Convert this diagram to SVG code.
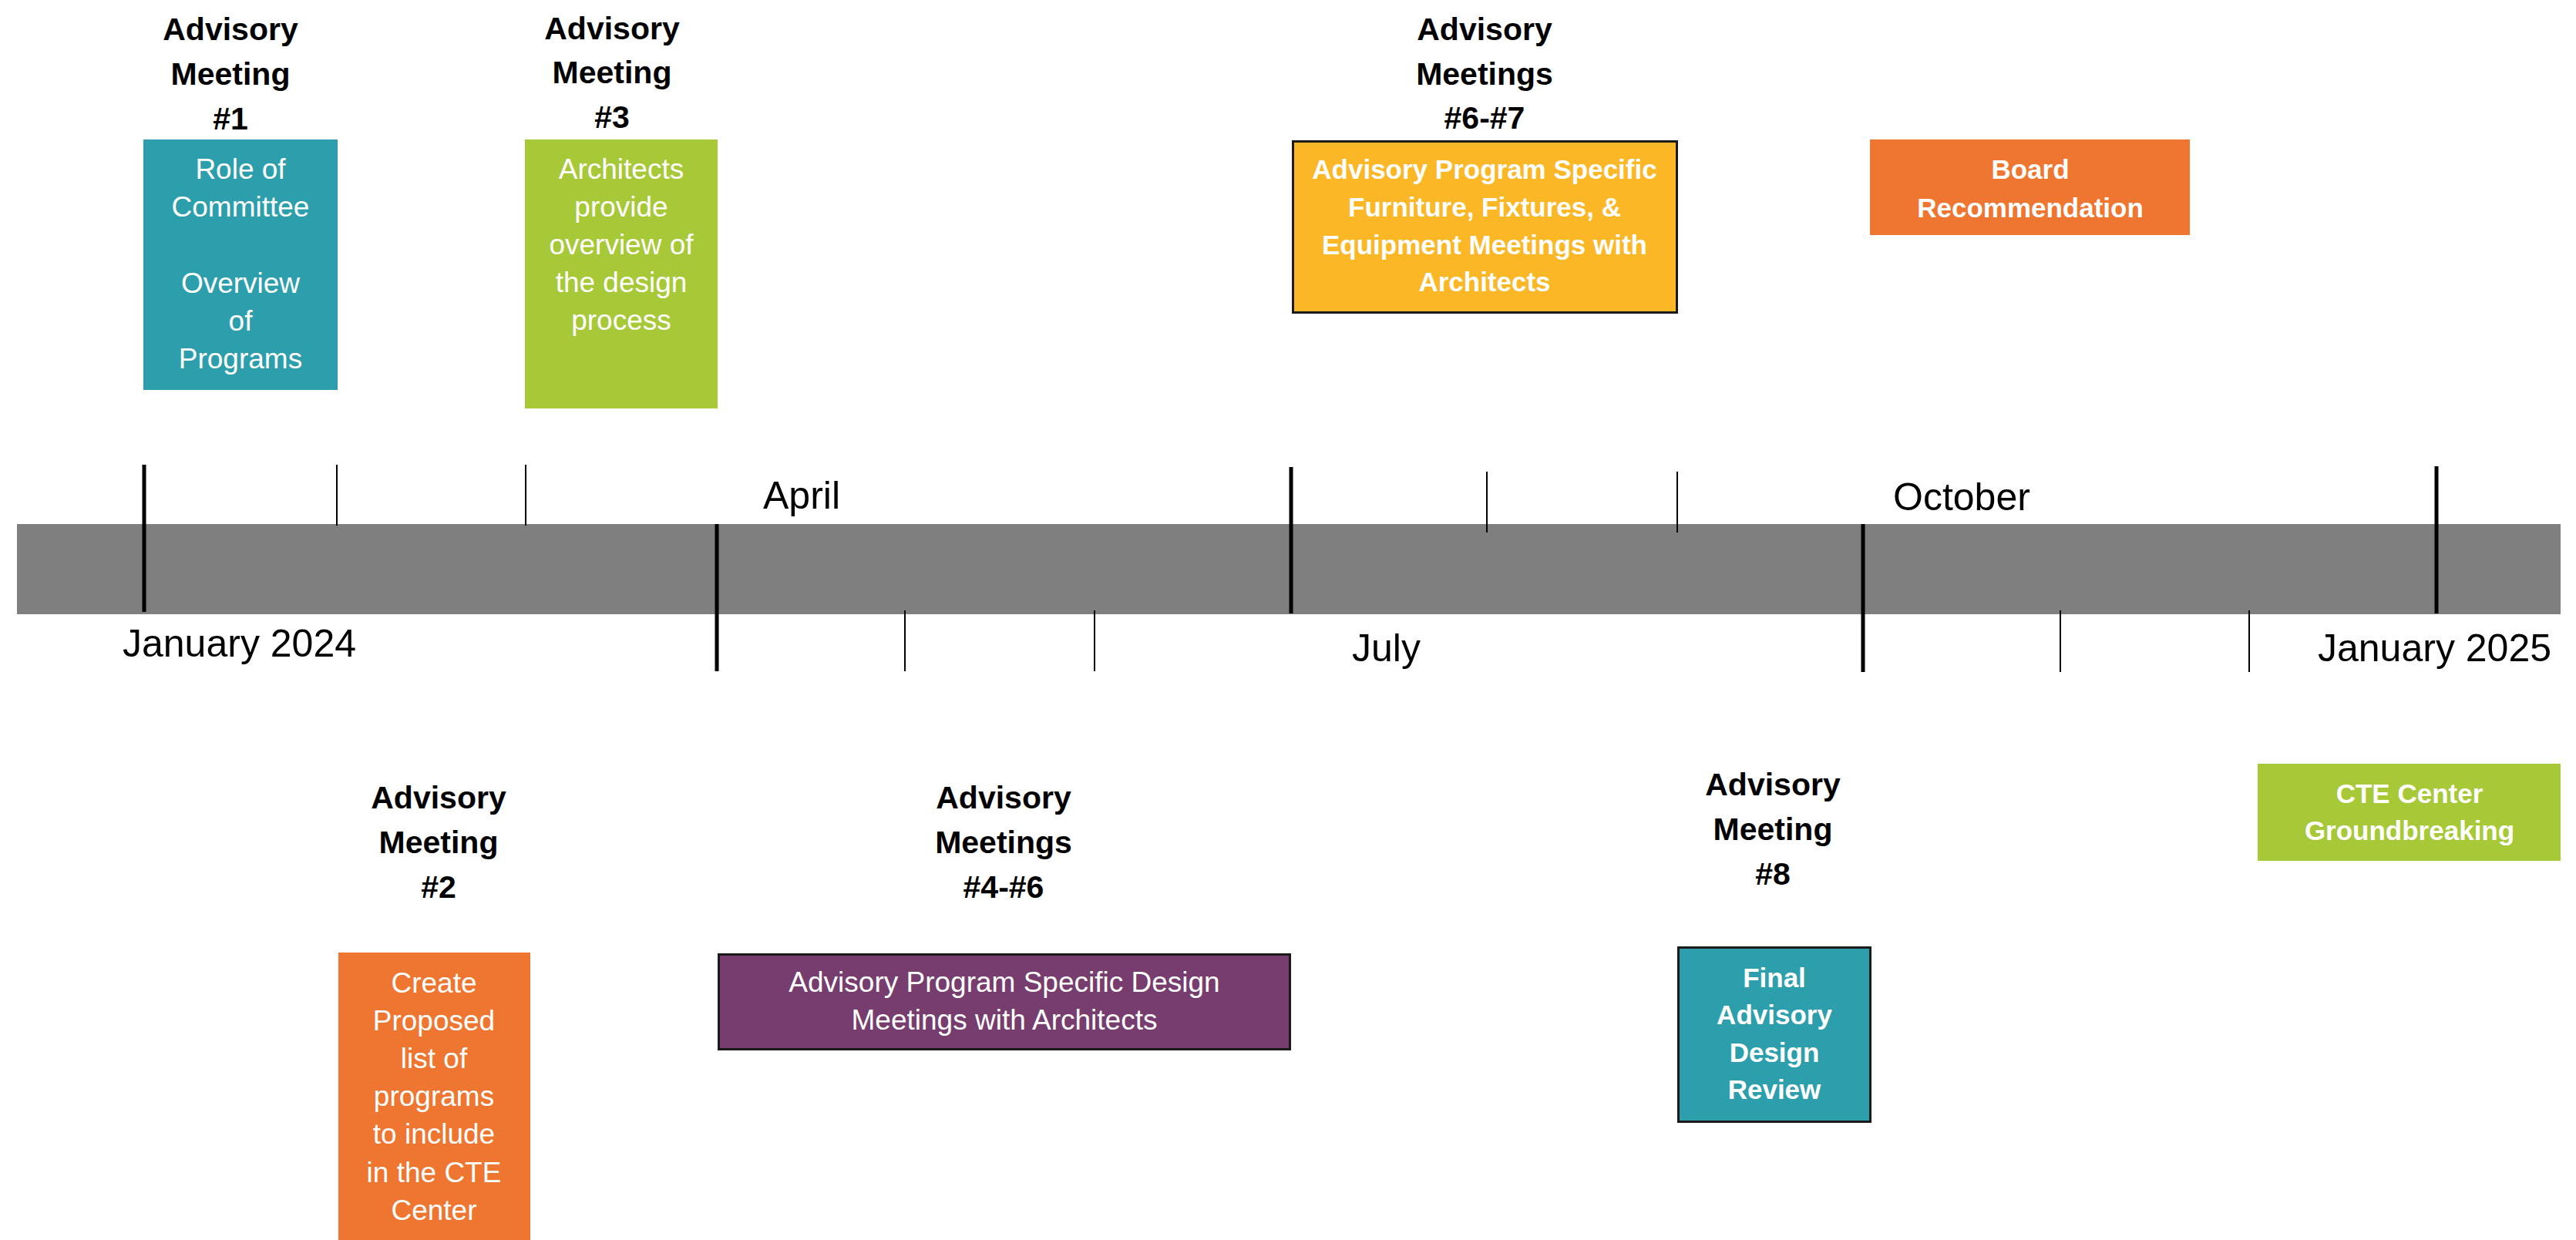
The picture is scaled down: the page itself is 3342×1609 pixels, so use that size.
<svg xmlns="http://www.w3.org/2000/svg" width="3342" height="1609" viewBox="0 0 3342 1609">
<style>
  text { font-family: "Liberation Sans", Arial, sans-serif; }
  .title { font-size: 41px; font-weight: bold; fill: #000; text-anchor: middle; }
  .bt { font-size: 37px; fill: #fff; text-anchor: middle; }
  .bb { font-size: 35px; font-weight: bold; fill: #fff; text-anchor: middle; }
  .month { font-size: 50px; fill: #000; }
  .major { stroke: #000; stroke-width: 5; }
  .minor { stroke: #000; stroke-width: 2; }
  .bord { stroke: #1a1a1a; stroke-width: 3; }
</style>
<rect x="0" y="0" width="3342" height="1609" fill="#fff"/>

<g id="timeline">
  <rect x="22" y="680" width="3300" height="117" fill="#7f7f7f"/>
  <line class="major" x1="187" y1="603" x2="187" y2="794"/>
  <line class="minor" x1="437" y1="603" x2="437" y2="682"/>
  <line class="minor" x1="682" y1="603" x2="682" y2="682"/>
  <line class="major" x1="930" y1="680" x2="930" y2="871"/>
  <line class="minor" x1="1174" y1="792" x2="1174" y2="871"/>
  <line class="minor" x1="1420" y1="792" x2="1420" y2="871"/>
  <line class="major" x1="1675" y1="606" x2="1675" y2="796"/>
  <line class="minor" x1="1929" y1="612" x2="1929" y2="691"/>
  <line class="minor" x1="2176" y1="612" x2="2176" y2="691"/>
  <line class="major" x1="2417" y1="680" x2="2417" y2="872"/>
  <line class="minor" x1="2673" y1="792" x2="2673" y2="872"/>
  <line class="minor" x1="2918" y1="792" x2="2918" y2="872"/>
  <line class="major" x1="3161" y1="605" x2="3161" y2="796"/>
  <text class="month" x="159" y="852">January 2024</text>
  <text class="month" x="990" y="660">April</text>
  <text class="month" x="1754" y="858">July</text>
  <text class="month" x="2456" y="662">October</text>
  <text class="month" x="3007" y="858">January 2025</text>
</g>

<g id="connectors"></g>

<g id="meeting1">
  <text class="title" x="299" y="52">Advisory</text>
  <text class="title" x="299" y="110">Meeting</text>
  <text class="title" x="299" y="168">#1</text>
  <rect x="186" y="181" width="252" height="325" fill="#2d9fac"/>
  <text class="bt" x="312" y="232">Role of</text>
  <text class="bt" x="312" y="281">Committee</text>
  <text class="bt" x="312" y="380">Overview</text>
  <text class="bt" x="312" y="429">of</text>
  <text class="bt" x="312" y="478">Programs</text>
</g>

<g id="meeting3">
  <text class="title" x="794" y="51">Advisory</text>
  <text class="title" x="794" y="108">Meeting</text>
  <text class="title" x="794" y="166">#3</text>
  <rect x="681" y="181" width="250" height="349" fill="#a7c938"/>
  <text class="bt" x="806" y="232">Architects</text>
  <text class="bt" x="806" y="281">provide</text>
  <text class="bt" x="806" y="330">overview of</text>
  <text class="bt" x="806" y="379">the design</text>
  <text class="bt" x="806" y="428">process</text>
</g>

<g id="meeting6-7">
  <text class="title" x="1926" y="52">Advisory</text>
  <text class="title" x="1926" y="110">Meetings</text>
  <text class="title" x="1926" y="167">#6-#7</text>
  <rect class="bord" x="1677.5" y="183.5" width="498" height="222" fill="#fbb725"/>
  <text class="bb" x="1926" y="232">Advisory Program Specific</text>
  <text class="bb" x="1926" y="281">Furniture, Fixtures, &amp;</text>
  <text class="bb" x="1926" y="330">Equipment Meetings with</text>
  <text class="bb" x="1926" y="378">Architects</text>
</g>

<g id="board">
  <rect x="2426" y="181" width="415" height="124" fill="#ef7630"/>
  <text class="bb" x="2634" y="232">Board</text>
  <text class="bb" x="2634" y="282">Recommendation</text>
</g>

<g id="meeting2">
  <text class="title" x="569" y="1049">Advisory</text>
  <text class="title" x="569" y="1107">Meeting</text>
  <text class="title" x="569" y="1165">#2</text>
  <rect x="439" y="1236" width="249" height="373" fill="#ef7630"/>
  <text class="bt" x="563" y="1288">Create</text>
  <text class="bt" x="563" y="1337">Proposed</text>
  <text class="bt" x="563" y="1386">list of</text>
  <text class="bt" x="563" y="1435">programs</text>
  <text class="bt" x="563" y="1484">to include</text>
  <text class="bt" x="563" y="1534">in the CTE</text>
  <text class="bt" x="563" y="1583">Center</text>
</g>

<g id="meeting4-6">
  <text class="title" x="1302" y="1049">Advisory</text>
  <text class="title" x="1302" y="1107">Meetings</text>
  <text class="title" x="1302" y="1165">#4-#6</text>
  <rect class="bord" x="932.5" y="1238.5" width="741" height="123" fill="#773d6e"/>
  <text class="bt" x="1303" y="1287">Advisory Program Specific Design</text>
  <text class="bt" x="1303" y="1336">Meetings with Architects</text>
</g>

<g id="meeting8">
  <text class="title" x="2300" y="1032">Advisory</text>
  <text class="title" x="2300" y="1090">Meeting</text>
  <text class="title" x="2300" y="1148">#8</text>
  <rect class="bord" x="2177.5" y="1229.5" width="249" height="226" fill="#2d9fac"/>
  <text class="bb" x="2302" y="1281">Final</text>
  <text class="bb" x="2302" y="1329">Advisory</text>
  <text class="bb" x="2302" y="1378">Design</text>
  <text class="bb" x="2302" y="1426">Review</text>
</g>

<g id="groundbreaking">
  <rect x="2929" y="991" width="393" height="126" fill="#a7c938"/>
  <text class="bb" x="3126" y="1042">CTE Center</text>
  <text class="bb" x="3126" y="1090">Groundbreaking</text>
</g>
</svg>
